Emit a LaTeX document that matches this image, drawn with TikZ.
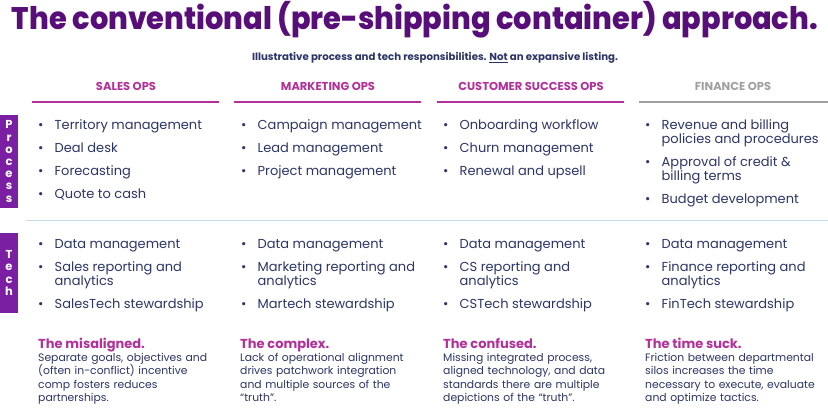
\documentclass[tikz,border=0pt]{standalone}
\usepackage{fontspec}
\setmainfont{Poppins}
\newfontfamily\titlefont{Poppins ExtraBold}
\usepackage{graphicx}
\definecolor{titlepurple}{HTML}{580E78}
\definecolor{mag}{HTML}{B3309A}
\definecolor{navy}{HTML}{2C3568}
\definecolor{barpurple}{HTML}{7B1FA2}
\definecolor{divblue}{HTML}{C3DCE8}
\definecolor{greyhead}{HTML}{A0A0A0}
\tikzset{
  titletext/.style={font=\titlefont\fontsize{32}{36}\selectfont, text=titlepurple, inner sep=0, anchor=base},
  subtext/.style={font=\bfseries\fontsize{10.2}{12}\selectfont, text=navy, inner sep=0, anchor=base},
  headtext/.style={font=\bfseries\fontsize{11.5}{13}\selectfont, text=mag, inner sep=0, anchor=base},
  headline/.style={line width=2.5pt, draw=mag},
  sidebar/.style={fill=barpurple, draw=none},
  sidetext/.style={font=\bfseries\fontsize{11.5}{12.2}\selectfont, text=white, align=center, inner sep=0},
  itemtext/.style={font=\fontsize{13}{14}\selectfont, text=navy, inner sep=0, anchor=base west},
  bottitle/.style={font=\bfseries\fontsize{13}{15}\selectfont, text=mag, inner sep=0, anchor=base west},
  botbody/.style={font=\fontsize{10.8}{13.5}\selectfont, text=navy, inner sep=0, anchor=base west, text width=200pt, align=left},
}
\newcommand{\bul}[1]{\makebox[16.5pt][l]{•}\parbox[t]{175pt}{\raggedright #1}}
\begin{document}
\begin{tikzpicture}[x=1pt,y=-1pt]
\useasboundingbox[fill=white] (0,0) rectangle (828,409);
% title
\node[titletext] (title) at (415,29.5) {\scalebox{1}[1.08]{\resizebox{806pt}{!}{The conventional (pre-shipping container) approach.}}};
\node[subtext] (sub) at (435,61) {Illustrative process and tech responsibilities. \underline{Not} an expansive listing.};
% headers
\node[headtext] (h1) at (126,91) {SALES OPS};
\node[headtext] (h2) at (328,91) {MARKETING OPS};
\node[headtext] (h3) at (531,91) {CUSTOMER SUCCESS OPS};
\node[headtext, text=greyhead] (h4) at (733,91) {FINANCE OPS};
\coordinate (l1a) at (32,102); \coordinate (l1b) at (219,102);
\coordinate (l2a) at (234,102); \coordinate (l2b) at (421,102);
\coordinate (l3a) at (437,102); \coordinate (l3b) at (624,102);
\coordinate (l4a) at (639,102); \coordinate (l4b) at (828,102);
\draw[headline] (l1a) -- (l1b);
\draw[headline] (l2a) -- (l2b);
\draw[headline] (l3a) -- (l3b);
\draw[headline, draw=greyhead] (l4a) -- (l4b);
% side bars
\fill[sidebar] (0,115) rectangle (18,208);
\node[sidetext] (proc) at (9,161.5) {P\\r\\o\\c\\e\\s\\s};
\fill[sidebar] (0,233) rectangle (18,313);
\node[sidetext] (tech) at (9,273) {T\\e\\c\\h};
% divider
\coordinate (da) at (26,221); \coordinate (db) at (828,221);
\draw[divblue, line width=1pt] (da) -- (db);
% Sales process
\node[itemtext] (sp1) at (38,130) {\bul{Territory management}};
\node[itemtext] (sp2) at (38,153) {\bul{Deal desk}};
\node[itemtext] (sp3) at (38,176) {\bul{Forecasting}};
\node[itemtext] (sp4) at (38,199) {\bul{Quote to cash}};
% Marketing process
\node[itemtext] (mp1) at (241,130) {\bul{Campaign management}};
\node[itemtext] (mp2) at (241,153) {\bul{Lead management}};
\node[itemtext] (mp3) at (241,176) {\bul{Project management}};
% CS process
\node[itemtext] (cp1) at (443,130) {\bul{Onboarding workflow}};
\node[itemtext] (cp2) at (443,153) {\bul{Churn management}};
\node[itemtext] (cp3) at (443,176) {\bul{Renewal and upsell}};
% Finance process
\node[itemtext] (fp1) at (645,130) {\bul{Revenue and billing\\policies and procedures}};
\node[itemtext] (fp2) at (645,167) {\bul{Approval of credit \&\\billing terms}};
\node[itemtext] (fp3) at (645,204) {\bul{Budget development}};
% Tech rows
\node[itemtext] (st1) at (38,248) {\bul{Data management}};
\node[itemtext] (st2) at (38,271) {\bul{Sales reporting and\\analytics}};
\node[itemtext] (st3) at (38,308) {\bul{SalesTech stewardship}};
\node[itemtext] (mt1) at (241,248) {\bul{Data management}};
\node[itemtext] (mt2) at (241,271) {\bul{Marketing reporting and\\analytics}};
\node[itemtext] (mt3) at (241,308) {\bul{Martech stewardship}};
\node[itemtext] (ct1) at (443,248) {\bul{Data management}};
\node[itemtext] (ct2) at (443,271) {\bul{CS reporting and\\analytics}};
\node[itemtext] (ct3) at (443,308) {\bul{CSTech stewardship}};
\node[itemtext] (ft1) at (645,248) {\bul{Data management}};
\node[itemtext] (ft2) at (645,271) {\bul{Finance reporting and\\analytics}};
\node[itemtext] (ft3) at (645,308) {\bul{FinTech stewardship}};
% bottom
\node[bottitle] (b1t) at (38,348) {The misaligned.};
\node[botbody] (b1) at (38,361) {Separate goals, objectives and\\(often in-conflict) incentive\\comp fosters reduces\\partnerships.};
\node[bottitle] (b2t) at (240,348) {The complex.};
\node[botbody] (b2) at (240,361) {Lack of operational alignment\\drives patchwork integration\\and multiple sources of the\\“truth”.};
\node[bottitle] (b3t) at (443,348) {The confused.};
\node[botbody] (b3) at (443,361) {Missing integrated process,\\aligned technology, and data\\standards there are multiple\\depictions of the “truth”.};
\node[bottitle] (b4t) at (645,348) {The time suck.};
\node[botbody] (b4) at (645,361) {Friction between departmental\\silos increases the time\\necessary to execute, evaluate\\and optimize tactics.};
\end{tikzpicture}
\end{document}
